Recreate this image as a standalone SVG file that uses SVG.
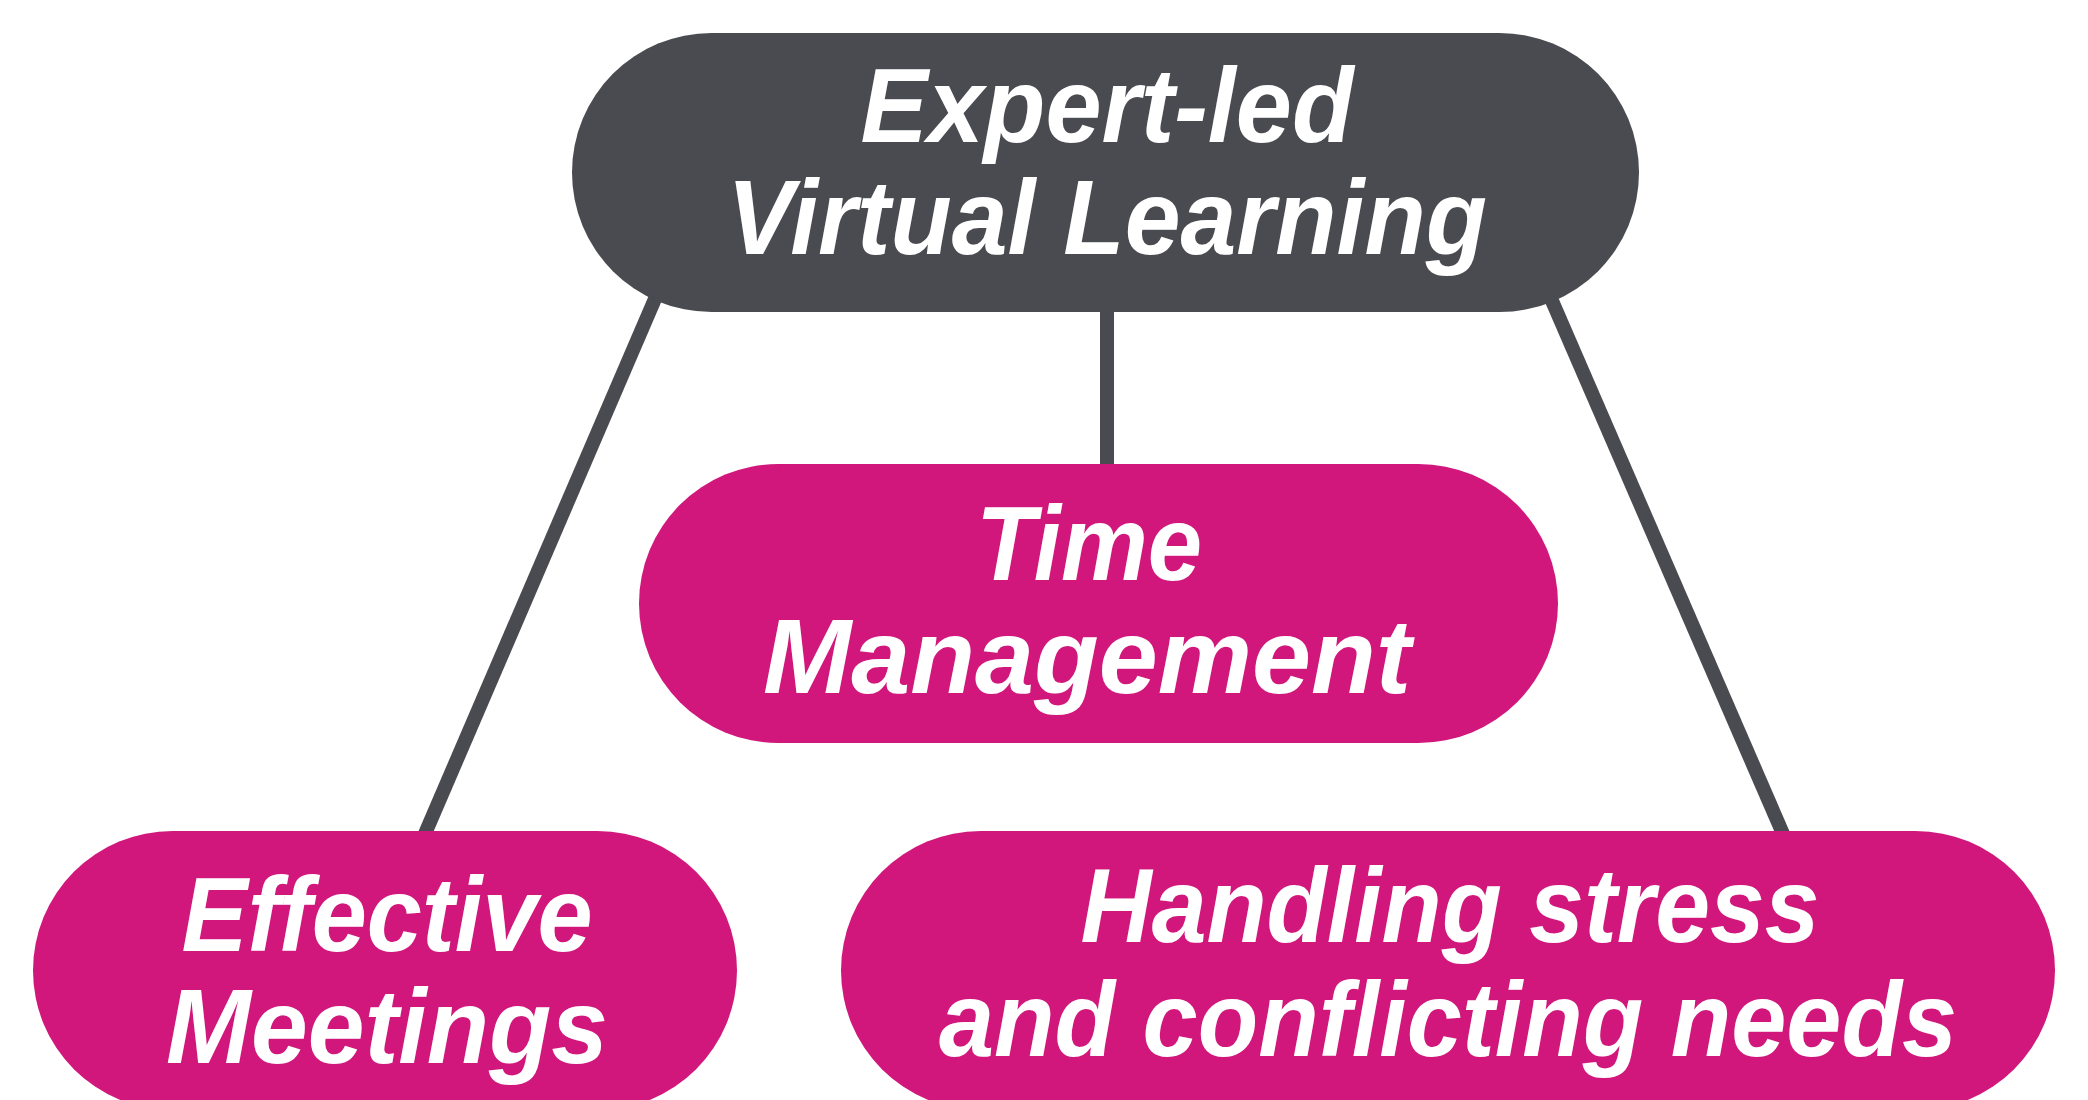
<svg xmlns="http://www.w3.org/2000/svg" width="2088" height="1100" viewBox="0 0 2088 1100">
<style>
.bg{fill:#ffffff}
.conn{stroke:#4a4b50;stroke-width:14;fill:none}
.dark{fill:#4a4b50}
.pink{fill:#d1177b}
.lbl{font-family:"Liberation Sans",Arial,sans-serif;font-weight:700;font-style:italic;font-size:106px;fill:#ffffff;text-anchor:middle;font-variant-ligatures:none}
</style>
<rect class="bg" x="0" y="0" width="2088" height="1100"/>
<g id="connectors">
<line class="conn" x1="676" y1="250" x2="418" y2="850"/>
<line class="conn" x1="1107" y1="250" x2="1107" y2="480"/>
<line class="conn" x1="1530" y1="250" x2="1790" y2="850"/>
</g>
<g id="node-expert-led">
<rect class="dark" x="572" y="33" width="1067" height="279" rx="139.5" ry="139.5"/>
<text class="lbl" x="1107" y="142" textLength="493" lengthAdjust="spacingAndGlyphs">Expert-led</text>
<text class="lbl" x="1107" y="254" textLength="760" lengthAdjust="spacingAndGlyphs">Virtual Learning</text>
</g>
<g id="node-time-management">
<rect class="pink" x="639" y="464" width="919" height="279" rx="139.5" ry="139.5"/>
<text class="lbl" x="1089" y="580" textLength="226" lengthAdjust="spacingAndGlyphs">Time</text>
<text class="lbl" x="1087" y="693" textLength="648" lengthAdjust="spacingAndGlyphs">Management</text>
</g>
<g id="node-effective-meetings">
<rect class="pink" x="33" y="831" width="704" height="279" rx="139.5" ry="139.5"/>
<text class="lbl" x="387" y="951" textLength="411" lengthAdjust="spacingAndGlyphs">Effective</text>
<text class="lbl" x="387" y="1063" textLength="442" lengthAdjust="spacingAndGlyphs">Meetings</text>
</g>
<g id="node-handling-stress">
<rect class="pink" x="841" y="831" width="1214" height="279" rx="139.5" ry="139.5"/>
<text class="lbl" x="1450" y="942" textLength="739" lengthAdjust="spacingAndGlyphs">Handling stress</text>
<text class="lbl" x="1448" y="1056" textLength="1018" lengthAdjust="spacingAndGlyphs">and conflicting needs</text>
</g>
</svg>
